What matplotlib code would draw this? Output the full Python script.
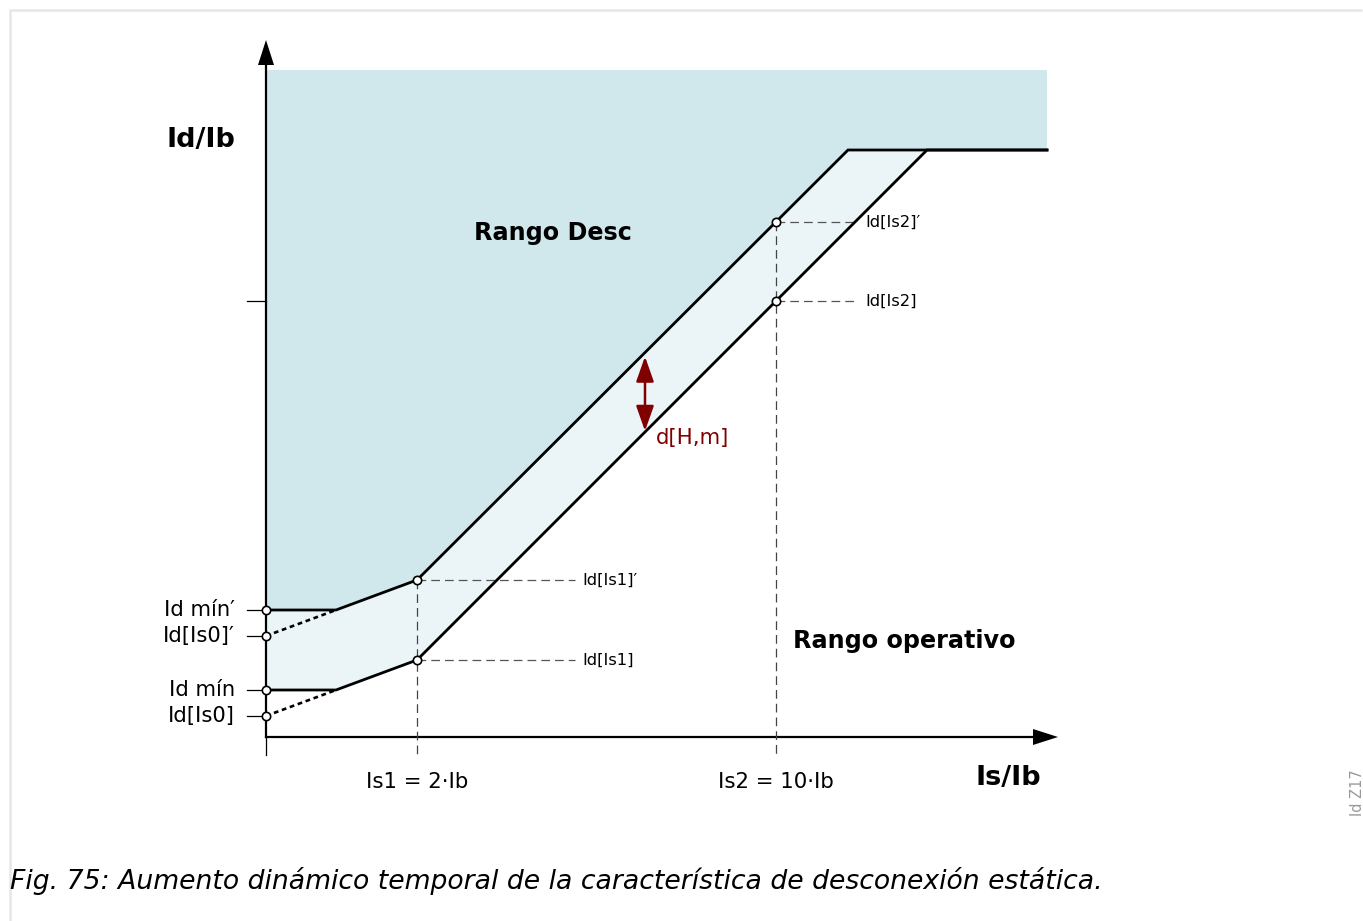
import numpy as np
import matplotlib
matplotlib.use("Agg")
import matplotlib.pyplot as plt

plt.rcParams["font.family"] = ["DejaVu Sans"]

# schematic units: x to the right of the Id/Ib axis, y above the Is/Ib axis
upper_x = [0, 70, 151, 582, 781]
upper_y = [127, 127, 157, 587, 587]
lower_x = [0, 70, 151, 661, 781]
lower_y = [47, 47, 77, 587, 587]
trip_top = 667
is_points = [151, 510]
is_labels = ["Is1 = 2·Ib", "Is2 = 10·Ib"]
id_labels_is = [["Id[Is1]′", "Id[Is1]"], ["Id[Is2]′", "Id[Is2]"]]
left_labels = ["Id mín′", "Id[Is0]′", "Id mín", "Id[Is0]"]
extra_tick = 436
arrow_x = 379
dark_fill = "#d0e8ec"
light_fill = "#ebf4f7"
red = "#800000"

# start of dotted extension of the first slope back to the y axis
def extend0(xs, ys):
    slope = (ys[2] - ys[1]) / (xs[2] - xs[1])
    return ys[1] - slope * xs[1]

id0_up = extend0(upper_x, upper_y)
id0_lo = extend0(lower_x, lower_y)

fig = plt.figure(figsize=(13.63, 9.21), dpi=100)
ax = fig.add_axes([0, 0, 1, 1])
ax.set_xlim(-266, 1363 - 266)
ax.set_ylim(-(921 - 737), 737)
ax.axis("off")

# page frame
ax.plot([-256, -256, 1096], [-200, 727, 727], color="#e6e6e6", lw=1.8,
        solid_capstyle="butt")

# tripping range
tx = [0] + upper_x + [upper_x[-1], 0]
ty = [upper_y[0]] + upper_y + [trip_top, trip_top]
ax.fill(tx, ty, color=dark_fill, lw=0)

# band between static and raised characteristic
bx = upper_x[:4] + lower_x[3::-1]
by = upper_y[:4] + lower_y[3::-1]
ax.fill(bx, by, color=light_fill, lw=0)

# axes with arrows
ax.plot([0, 0], [0, 672], color="black", lw=1.6)
ax.plot([0, 767], [0, 0], color="black", lw=1.6)
ax.fill([-8, 8, 0], [672, 672, 697], color="black", lw=0)
ax.fill([767, 767, 792], [-8, 8, 0], color="black", lw=0)
ax.plot([0, 0], [0, -18], color="black", lw=0.9)

# dashed helper lines
for i, xp in enumerate(is_points):
    yu = np.interp(xp, upper_x, upper_y)
    yl = np.interp(xp, lower_x, lower_y)
    xe = xp + (158 if i == 0 else 82)
    ax.plot([xp, xp], [yu, -18], color="#444444", lw=0.9, dashes=(7, 4))
    ax.plot([xp, xe], [yu, yu], color="#555555", lw=0.9, dashes=(7, 4))
    ax.plot([xp, xe], [yl, yl], color="#555555", lw=0.9, dashes=(7, 4))
    ax.text(xe + 7, yu, id_labels_is[i][0], fontsize=11.7, va="center", ha="left")
    ax.text(xe + 7, yl, id_labels_is[i][1], fontsize=11.7, va="center", ha="left")
    ax.text(xp, -45, is_labels[i], fontsize=15.3, va="center", ha="center")

# characteristics
ax.plot(upper_x, upper_y, color="black", lw=2.0, solid_joinstyle="miter")
ax.plot(lower_x, lower_y, color="black", lw=2.0, solid_joinstyle="miter")
ax.plot([0, upper_x[1]], [id0_up, upper_y[1]], color="black", lw=1.9,
        dashes=(1.8, 1.4))
ax.plot([0, lower_x[1]], [id0_lo, lower_y[1]], color="black", lw=1.9,
        dashes=(1.8, 1.4))

# y ticks and labels
left_y = [upper_y[0], id0_up, lower_y[0], id0_lo]
for lab, yv in zip(left_labels, left_y):
    ax.plot([-19, 0], [yv, yv], color="black", lw=0.9)
    ax.text(-31, yv, lab, fontsize=15.2, va="center", ha="right")
ax.plot([-19, 0], [extra_tick, extra_tick], color="black", lw=0.9)

# marker circles
mx = [0, 0, 0, 0]
my = list(left_y)
for xp in is_points:
    mx += [xp, xp]
    my += [np.interp(xp, upper_x, upper_y), np.interp(xp, lower_x, lower_y)]
ax.scatter(mx, my, s=36, facecolor="white", edgecolor="black", lw=1.2, zorder=5)

# d[H,m] arrow
ya = np.interp(arrow_x, upper_x, upper_y) - 4
yb = np.interp(arrow_x, lower_x, lower_y) + 1
ax.annotate("", xy=(arrow_x, ya), xytext=(arrow_x, yb),
            arrowprops=dict(arrowstyle="<|-|>,head_length=0.85,head_width=0.3",
                            color=red, lw=1.8, mutation_scale=18,
                            shrinkA=0, shrinkB=0))
ax.text(arrow_x + 11, 299, "d[H,m]", fontsize=15.3, color=red, va="center", ha="left")

# titles and region labels
ax.text(-65, 597, "Id/Ib", fontsize=19.5, fontweight="bold", va="center", ha="center")
ax.text(742, -41, "Is/Ib", fontsize=19.5, fontweight="bold", va="center", ha="center")
ax.text(287, 504, "Rango Desc", fontsize=17.2, fontweight="bold", va="center", ha="center")
ax.text(638, 96, "Rango operativo", fontsize=17.2, fontweight="bold", va="center", ha="center")

ax.text(1091, -56, "Id Z17", fontsize=10.5, color="#999999", rotation=90,
        va="center", ha="center")
ax.text(-256, -144, "Fig. 75: Aumento dinámico temporal de la característica de desconexión estática.",
        fontsize=19.2, fontstyle="italic", va="center", ha="left")

fig.savefig("out.png", dpi=100)
